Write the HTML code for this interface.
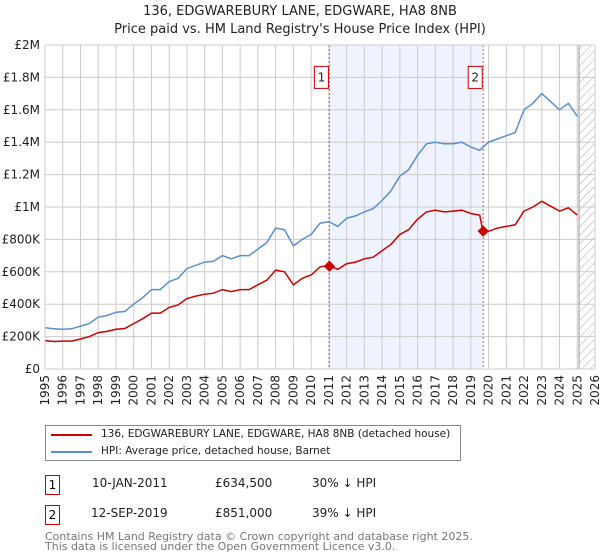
<!DOCTYPE html>
<html><head><meta charset="utf-8"><style>
body{margin:0;background:#fff;font-family:"DejaVu Sans","Liberation Sans",sans-serif;}
#wrap{position:relative;width:600px;height:560px;overflow:hidden}
.t{position:absolute;left:0;width:600px;text-align:center;font-size:13px;color:#222}
.row{position:absolute;font-size:12px;color:#222;white-space:nowrap}
.box{position:absolute;width:13px;height:18px;border:1px solid #c00;font-size:12px;text-align:center;line-height:18px}
</style></head><body><div id="wrap">
<div class="t" style="top:4px">136, EDGWAREBURY LANE, EDGWARE, HA8 8NB</div>
<div class="t" style="top:22px">Price paid vs. HM Land Registry's House Price Index (HPI)</div>
<svg id="svg" width="600" height="410" style="position:absolute;left:0;top:0"></svg>
<div style="position:absolute;left:45px;top:425px;width:414px;height:34px;border:1px solid #888">
<div style="position:absolute;left:5px;top:8px;width:41px;height:2px;background:#c00"></div>
<div style="position:absolute;left:55px;top:2px;font-size:10.5px;color:#222;white-space:nowrap">136, EDGWAREBURY LANE, EDGWARE, HA8 8NB (detached house)</div>
<div style="position:absolute;left:5px;top:25px;width:41px;height:2px;background:#5b8fd0"></div>
<div style="position:absolute;left:55px;top:19px;font-size:10.5px;color:#222;white-space:nowrap">HPI: Average price, detached house, Barnet</div>
</div>
<div class="box" style="left:45px;top:475px">1</div>
<div class="row" style="left:92px;top:476px">10-JAN-2011</div>
<div class="row" style="left:215px;top:476px">£634,500</div>
<div class="row" style="left:312px;top:476px">30% ↓ HPI</div>
<div class="box" style="left:45px;top:505px">2</div>
<div class="row" style="left:91px;top:506px">12-SEP-2019</div>
<div class="row" style="left:215px;top:506px">£851,000</div>
<div class="row" style="left:312px;top:506px">39% ↓ HPI</div>
<div class="row" style="left:45px;top:532px;font-size:11px;color:#777;line-height:10px">Contains HM Land Registry data © Crown copyright and database right 2025.<br>This data is licensed under the Open Government Licence v3.0.</div>
</div>
<script>
const hpiYears=[1995,1995.5,1996,1996.5,1997,1997.5,1998,1998.5,1999,1999.5,2000,2000.5,2001,2001.5,2002,2002.5,2003,2003.5,2004,2004.5,2005,2005.5,2006,2006.5,2007,2007.5,2008,2008.5,2009,2009.5,2010,2010.5,2011,2011.5,2012,2012.5,2013,2013.5,2014,2014.5,2015,2015.5,2016,2016.5,2017,2017.5,2018,2018.5,2019,2019.5,2020,2020.5,2021,2021.5,2022,2022.5,2023,2023.5,2024,2024.5,2025];
const hpiValues=[255,248,245,248,265,280,320,330,350,355,400,440,490,490,540,560,620,640,660,665,700,680,700,700,740,780,870,860,760,800,830,900,910,880,930,945,970,990,1040,1100,1190,1230,1320,1390,1400,1390,1390,1400,1370,1350,1400,1420,1440,1460,1600,1640,1700,1650,1600,1640,1560];
const priceYears=[1995,1995.5,1996,1996.5,1997,1997.5,1998,1998.5,1999,1999.5,2000,2000.5,2001,2001.5,2002,2002.5,2003,2003.5,2004,2004.5,2005,2005.5,2006,2006.5,2007,2007.5,2008,2008.5,2009,2009.5,2010,2010.5,2011,2011.5,2012,2012.5,2013,2013.5,2014,2014.5,2015,2015.5,2016,2016.5,2017,2017.5,2018,2018.5,2019,2019.5,2019.68,2020,2020.5,2021,2021.5,2022,2022.5,2023,2023.5,2024,2024.5,2025];
const priceValues=[175,170,172,172,185,200,225,232,245,250,280,310,345,345,380,395,435,450,462,468,490,478,490,490,520,548,610,600,520,560,580,630,640,615,650,660,680,690,730,770,830,860,925,970,980,970,975,980,960,950,851,850,870,880,890,975,1000,1035,1005,975,995,950];
const saleYears=[2011.03,2019.7];
const saleValues=[634.5,851];
const yTicks=[0,200,400,600,800,1000,1200,1400,1600,1800,2000];
const yLabels=["£0","£200K","£400K","£600K","£800K","£1M","£1.2M","£1.4M","£1.6M","£1.8M","£2M"];
const xTicks=[1995,1996,1997,1998,1999,2000,2001,2002,2003,2004,2005,2006,2007,2008,2009,2010,2011,2012,2013,2014,2015,2016,2017,2018,2019,2020,2021,2022,2023,2024,2025,2026];
const L=45,R=595,T=45,B=369;
const X=y=>L+(y-1995)/31*(R-L), Y=v=>B-v/2000*(B-T);
const svg=document.getElementById('svg'),NS='http://www.w3.org/2000/svg';
function mk(tag,a,name){const e=document.createElementNS(NS,tag);for(const k in a)e.setAttribute(k,a[k]);


svg.appendChild(e);return e;}
mk('rect',{x:X(saleYears[0]),y:T,width:X(saleYears[1])-X(saleYears[0]),height:B-T,fill:'#eef3fd'},'sale-shade');
const defs=document.createElementNS(NS,'defs');defs.innerHTML='<pattern id="h" width="6" height="6" patternUnits="userSpaceOnUse" patternTransform="rotate(45)"><line x1="0" y1="0" x2="0" y2="6" stroke="#aaa" stroke-width="1"/></pattern>';svg.appendChild(defs);
mk('rect',{x:X(2025.1),y:T,width:R-X(2025.1),height:B-T,fill:'url(#h)'},'forecast-hatch');
xTicks.forEach(t=>{mk('line',{x1:X(t),x2:X(t),y1:T,y2:B,stroke:'#ccc'},'x-gridline');
const tx=mk('text',{x:0,y:0,'font-size':12,fill:'#222','text-anchor':'end',transform:`translate(${X(t)+4},${B+6}) rotate(-90)`},'x-tick-label');tx.textContent=t;});
yTicks.forEach((t,i)=>{mk('line',{x1:L,x2:R,y1:Y(t),y2:Y(t),stroke:'#ccc'},'y-gridline');
const tx=mk('text',{x:L-5,y:Y(t)+4,'font-size':12,fill:'#222','text-anchor':'end'},'y-tick-label');tx.textContent=yLabels[i];});
mk('line',{x1:X(2025.1),x2:X(2025.1),y1:T,y2:B,stroke:'#999'},'forecast-line');
saleYears.forEach((s,i)=>{mk('line',{x1:X(s),x2:X(s),y1:T,y2:B,stroke:'#e05050','stroke-dasharray':'2,2'},'sale-line');
mk('rect',{x:X(s)-15,y:Y(1800)-11,width:14,height:22,fill:'#fff',stroke:'#c00'},'sale-marker-box');
const tx=mk('text',{x:X(s)-8,y:Y(1800)+4,'font-size':12,'text-anchor':'middle',fill:'#222'},'sale-marker-number');tx.textContent=i+1;});
const pts=(xs,vs)=>xs.map((x,i)=>X(x).toFixed(1)+','+Y(vs[i]).toFixed(1)).join(' ');
mk('polyline',{points:pts(hpiYears,hpiValues),fill:'none',stroke:'#5b8fd0','stroke-width':1.5},'hpi-line');
mk('polyline',{points:pts(priceYears,priceValues),fill:'none',stroke:'#c00','stroke-width':1.5},'price-line');
saleYears.forEach((s,i)=>mk('rect',{x:X(s)-4,y:Y(saleValues[i])-4,width:8,height:8,fill:'#c00',transform:`rotate(45 ${X(s)} ${Y(saleValues[i])})`},'sale-point'));
mk('rect',{x:L,y:T,width:R-L,height:B-T,fill:'none',stroke:'#ccc'},'plot-border');
</script></body></html>
